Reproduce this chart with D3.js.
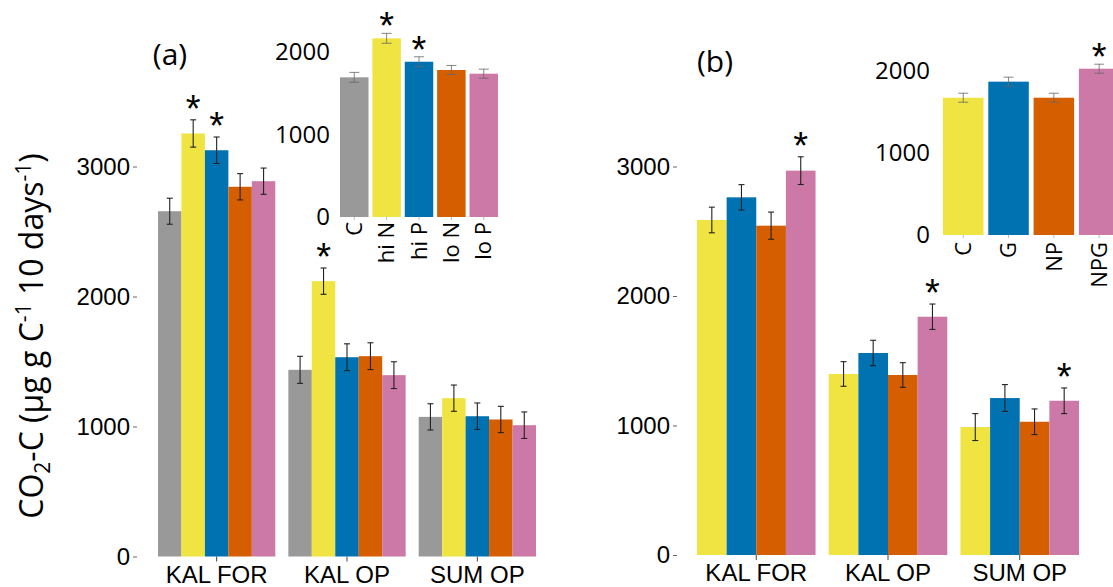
<!DOCTYPE html>
<html>
<head>
<meta charset="utf-8">
<script src="https://cdn.jsdelivr.net/npm/d3@7"></script>
<style>
  body { margin: 0; background: #fff; }
</style>
</head>
<body>
<div id="chart"></div>
<script>
// Sites on the x axis of both main panels.
var sites = ["KAL FOR", "KAL OP", "SUM OP"];

// Panel (a): treatments, means and standard errors per site.
var treatA = ["C", "hi N", "hi P", "lo N", "lo P"];
var colorsA = ["#999999", "#F0E442", "#0072B2", "#D55E00", "#CC79A7"];
var meanA = [
  [2656, 3254, 3125, 2844, 2887],
  [1436, 2118, 1533, 1541, 1395],
  [1074, 1218, 1079, 1054, 1010]
];
var seA = [
  [100, 105, 102, 101, 101],
  [104, 101, 103, 103, 103],
  [101, 101, 102, 101, 102]
];
var starA = [
  [0, 1, 1, 0, 0],
  [0, 1, 0, 0, 0],
  [0, 0, 0, 0, 0]
];
// Inset (a): pooled over sites.
var insetMeanA = [1693, 2166, 1882, 1782, 1737];
var insetSeA = [60, 60, 60, 55, 55];
var insetStarA = [0, 1, 1, 0, 0];

// Panel (b).
var treatB = ["C", "G", "NP", "NPG"];
var colorsB = ["#F0E442", "#0072B2", "#D55E00", "#CC79A7"];
var meanB = [
  [2587, 2762, 2543, 2968],
  [1398, 1560, 1390, 1840],
  [988, 1212, 1029, 1191]
];
var seB = [
  [99, 98, 105, 107],
  [95, 98, 95, 98],
  [104, 104, 99, 99]
];
var starB = [
  [0, 0, 0, 1],
  [0, 0, 0, 1],
  [0, 0, 0, 1]
];
var insetMeanB = [1674, 1870, 1674, 2028];
var insetSeB = [55, 55, 55, 55];
var insetStarB = [0, 0, 0, 1];

var mainTicks = [0, 1000, 2000, 3000];
var insetTicks = [0, 1000, 2000];

var width = 1113;
var height = 587;

var svg = d3.select("#chart")
  .append("svg")
    .attr("width", width)
    .attr("height", height)
    .style("background", "#fff");

var arial = "Liberation Sans, Arial, sans-serif";
var calibri = "Open Sans, Noto Sans, sans-serif";

function translate(x, y) {
  return "translate(" + x + ", " + y + ")";
}

function setFont(sel, family, size) {
  sel.attr("font-family", family).attr("font-size", size).attr("fill", "#000");
}

// Asterisk glyph sits ~0.57em above its baseline.
function addStar(g, x, yTop, gap) {
  g.append("text")
    .attr("x", x)
    .attr("y", yTop - gap + 22)
    .attr("text-anchor", "middle")
    .call(setFont, arial, 38)
    .text("*");
}

function drawBars(g, rows, x, y, base, capHalf, errColor, errWidth, starGap) {
  g.selectAll("rect.bar")
    .data(rows)
    .join("rect")
      .attr("class", "bar")
      .attr("x", function (d) { return x(d.t); })
      .attr("y", function (d) { return y(d.v); })
      .attr("width", x.bandwidth())
      .attr("height", function (d) { return base - y(d.v); })
      .style("fill", function (d) { return d.c; });

  var err = g.selectAll("g.err")
    .data(rows)
    .join("g")
      .attr("class", "err")
      .attr("transform", function (d) { return translate(x(d.t) + x.bandwidth() / 2, 0); })
      .style("stroke", errColor)
      .style("stroke-width", errWidth);

  err.append("line")
    .attr("y1", function (d) { return y(d.v - d.se); })
    .attr("y2", function (d) { return y(d.v + d.se); });
  err.append("line")
    .attr("x1", -capHalf).attr("x2", capHalf)
    .attr("y1", function (d) { return y(d.v + d.se); })
    .attr("y2", function (d) { return y(d.v + d.se); });
  err.append("line")
    .attr("x1", -capHalf).attr("x2", capHalf)
    .attr("y1", function (d) { return y(d.v - d.se); })
    .attr("y2", function (d) { return y(d.v - d.se); });

  rows.forEach(function (d) {
    if (d.star) addStar(g, x(d.t) + x.bandwidth() / 2, y(d.v + d.se), starGap);
  });
}

function drawMain(p) {
  var y = d3.scaleLinear().domain([0, 3000]).range([p.base, p.top]);
  var fx = d3.scaleBand().domain(sites).range([p.left, p.right]).paddingInner(0.1);
  var bx = d3.scaleBand().domain(p.treat).range([0, fx.bandwidth()]);

  var yAxis = svg.append("g")
    .attr("transform", translate(p.axisX, 0))
    .call(d3.axisLeft(y).tickValues(mainTicks).tickFormat(d3.format("d"))
      .tickSize(4).tickPadding(3));
  yAxis.select(".domain").remove();
  yAxis.selectAll("line").style("stroke", "#666");
  yAxis.selectAll("text").call(setFont, arial, 24);

  var xAxis = svg.append("g")
    .attr("transform", translate(0, p.base))
    .call(d3.axisBottom(fx).tickSize(5).tickPadding(4));
  xAxis.select(".domain").remove();
  xAxis.selectAll("line").style("stroke", "#444");
  xAxis.selectAll("text").call(setFont, arial, 24);

  sites.forEach(function (site, si) {
    var rows = p.treat.map(function (t, i) {
      return { t: t, v: p.mean[si][i], se: p.se[si][i], star: p.star[si][i], c: p.colors[i] };
    });
    var g = svg.append("g").attr("transform", translate(fx(site), 0));
    drawBars(g, rows, bx, y, p.base, 3, "#222", 1.1, 20);
  });

  svg.append("text")
    .attr("x", p.tagX)
    .attr("y", p.tagY)
    .attr("text-anchor", "middle")
    .call(setFont, calibri, 30)
    .text(p.tag);
}

function drawInset(p) {
  var y = d3.scaleLinear().domain([0, 2000]).range([p.base, p.top]);
  var x = d3.scaleBand().domain(p.treat).range([p.left, p.right]).paddingInner(p.pad);

  var yAxis = svg.append("g")
    .attr("transform", translate(p.left, 0))
    .call(d3.axisLeft(y).tickValues(insetTicks).tickFormat(d3.format("d"))
      .tickSize(0).tickPadding(p.labelPad));
  yAxis.select(".domain").remove();
  yAxis.selectAll("text").call(setFont, calibri, 24);

  var xAxis = svg.append("g")
    .attr("transform", translate(0, p.base))
    .call(d3.axisBottom(x).tickSize(3));
  xAxis.select(".domain").remove();
  xAxis.selectAll("line").style("stroke", "#bbb");
  xAxis.selectAll("text")
    .attr("transform", "rotate(-90)")
    .attr("text-anchor", "end")
    .attr("x", -p.textGap)
    .attr("y", 0)
    .attr("dy", "0.35em")
    .call(setFont, calibri, 22);

  var rows = p.treat.map(function (t, i) {
    return { t: t, v: p.mean[i], se: p.se[i], star: p.star[i], c: p.colors[i] };
  });
  drawBars(svg.append("g"), rows, x, y, p.base, 5, "#666", 0.8, 16);
}

drawMain({
  treat: treatA, colors: colorsA, mean: meanA, se: seA, star: starA,
  base: 556.5, top: 166.5, left: 158, right: 536, axisX: 137,
  tag: "(a)", tagX: 170, tagY: 65
});
drawInset({
  treat: treatA, colors: colorsA, mean: insetMeanA, se: insetSeA, star: insetStarA,
  base: 217, top: 52, left: 340, right: 498, pad: 0.12, labelPad: 10, textGap: 5
});

drawMain({
  treat: treatB, colors: colorsB, mean: meanB, se: seB, star: starB,
  base: 555, top: 166.5, left: 697, right: 1079, axisX: 677,
  tag: "(b)", tagX: 715, tagY: 72
});
drawInset({
  treat: treatB, colors: colorsB, mean: insetMeanB, se: insetSeB, star: insetStarB,
  base: 235, top: 71, left: 943, right: 1119.4, pad: 0.106, labelPad: 13, textGap: 7
});

// Shared y axis title, rotated, with sub/superscripts.
var title = svg.append("text")
  .attr("transform", translate(43, 336) + " rotate(-90)")
  .attr("text-anchor", "middle")
  .call(setFont, calibri, 32);
title.append("tspan").text("CO");
title.append("tspan").attr("dy", 7).attr("font-size", 21).text("2");
title.append("tspan").attr("dy", -7).text("-C (µg g C");
title.append("tspan").attr("dy", -12).attr("font-size", 21).text("-1");
title.append("tspan").attr("dy", 12).text(" 10 days");
title.append("tspan").attr("dy", -12).attr("font-size", 21).text("-1");
title.append("tspan").attr("dy", 12).text(")");
</script>
</body>
</html>
